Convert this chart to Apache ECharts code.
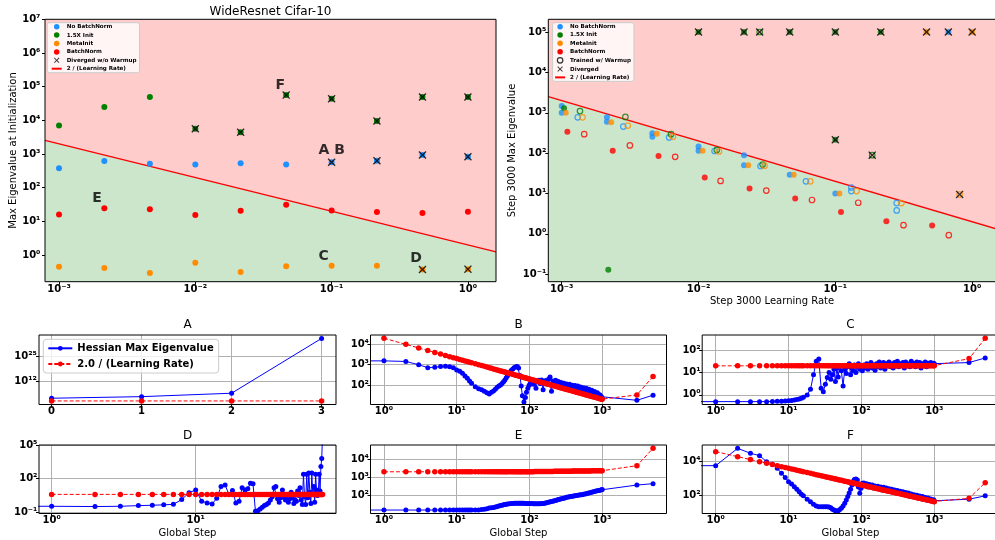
<!DOCTYPE html>
<html><head><meta charset="utf-8">
<script src="https://cdn.jsdelivr.net/npm/echarts@6/dist/echarts.min.js"></script>
<style>html,body{margin:0;padding:0;background:#fff}#c{width:995px;height:540px}</style>
</head><body><div id="c"></div>
<script>
// ---------------- data: top-left (initialization) ----------------
const lrTL = [0.001, 0.00215, 0.00464, 0.01, 0.0215, 0.0464, 0.1, 0.215, 0.464, 1.0];
const noBN_TL = [380, 615, 510, 490, 535, 490, 565, 630, 930, 830];
const init15_TL = [7000, 25000, 49000, 5600, 4400, 56000, 43500, 9500, 49000, 49000];
const meta_TL = [0.45, 0.41, 0.29, 0.59, 0.31, 0.46, 0.48, 0.48, 0.37, 0.38];
const bn_TL = [16, 24.5, 23, 15.4, 20.6, 31, 21, 19, 17.6, 19.4];
const divNoBN_TL = [0, 0, 0, 0, 0, 0, 1, 1, 1, 1];
const divInit15_TL = [0, 0, 0, 1, 1, 1, 1, 1, 1, 1];
const divMeta_TL = [0, 0, 0, 0, 0, 0, 0, 0, 1, 1];
const lineLR_TL = [0.000789, 1.607];
const lineVal_TL = [2535, 1.245];
const annotText = ['F', 'A B', 'C', 'D', 'E'];
const annotLR = [0.039, 0.0807, 0.0807, 0.38, 0.00177];
const annotVal = [79000, 930, 0.66, 0.59, 35.5];

// ---------------- data: top-right (step 3000) ----------------
const trNoBN = [[0.001,1480],[0.001,1000],[0.00214,770],[0.00214,600],[0.0046,310],[0.0046,255],[0.01,145],[0.01,115],[0.0215,89],[0.0215,50],[0.0464,29],[0.1,10],[0.67,1e5]];
const trInit15 = [[0.00104,1290],[0.00219,0.13],[0.01,1e5],[0.0215,1e5],[0.0464,1e5],[0.1,1e5],[0.1,215],[0.215,1e5]];
const trMeta = [[0.00107,1000],[0.0023,580],[0.00495,300],[0.0107,115],[0.0231,50],[0.0496,29],[0.107,10],[0.464,1e5],[1.0,1e5]];
const trBN = [[0.0011,340],[0.00236,115],[0.0051,85],[0.0111,25],[0.0236,13.2],[0.0509,7.5],[0.11,3.5],[0.236,2.05],[0.51,1.62]];
const trNoBN_W = [[0.00131,770],[0.00282,455],[0.0061,245],[0.0131,113],[0.0284,48],[0.061,20],[0.131,14],[0.131,11.5],[0.281,5.8],[0.281,3.8]];
const trInit15_W = [[0.00136,1100],[0.00292,790],[0.0063,295],[0.0136,120],[0.0294,52],[0.028,1e5],[0.186,89]];
const trMeta_W = [[0.00142,770],[0.00304,480],[0.0065,255],[0.0141,110],[0.0304,49],[0.0656,20],[0.143,11.5],[0.304,5.8],[0.81,9.5]];
const trBN_W = [[0.00146,295],[0.00315,155],[0.00675,81],[0.0145,20.5],[0.0313,11.8],[0.0675,6.9],[0.147,5.9],[0.315,1.64],[0.675,0.93]];
const trDiverged = [[0.01,1e5],[0.0215,1e5],[0.028,1e5],[0.0464,1e5],[0.1,1e5],[0.215,1e5],[0.464,1e5],[0.67,1e5],[1.0,1e5],[0.1,215],[0.186,89],[0.81,9.5]];
const lineLR_TR = [0.000798, 1.489];
const lineVal_TR = [2506, 1.343];

// ---------------- data: bottom panels ----------------
const stepsA = [0, 1, 2, 3];
const blueA = [575, 4000, 2.7e5, 6e34];
const redA = [20, 20, 20, 20];

const stepsD = [0,1,2,3,4,5,6,7,8,9,10,11,12,13,14,15,16,17,18,19,20,21,22,23,24,25,26,27,28,29,30,31,32,33,34,35,36,37,38,39,40,41,42,43,44,45,46,47,48,49,50,51,52,53,54,55,56,57,58,59,60,61,62,63,64,65,66,67,68,69,70,71,72,73,74,75,76];
const blueD = [0.35, 0.35,0.33,0.35,0.4,0.43,0.47,0.52,1.4,5.6,10, 1.0,0.7,0.56,1.8,20,28,4,9,0.7,1.0, 16,10,12.6,40,35,0.126,0.14,0.2,0.28,0.4, 0.5,0.7,1.26,2.5,16,20,1.6,0.8,2,10, 2.5,1.26,3.2,0.8,1.6,6.3,2,0.63,1.26,1, 8,3.2,16,1.26,0.5,250,2.5,0.5,250,2, 316,6.3,0.63,316,4,20,0.8,250,10,3.2, 6.3,250,8,1200,6300,1e6];
const redD = [4,4,4,4,4,4,4,4,4,4,4,4,4,4,4,4,4,4,4,4,4,4,4,4,4,4,4,4,4,4,4,4,4,4,4,4,4,4,4,4,4,4,4,4,4,4,4,4,4,4,4,4,4,4,4,4,4,4,4,4,4,4,4,4,4,4,4,4,4,4,4,4,4,4,4,4];

const stepsLong = [0, 1,2,3,4,5,6,7,8,9,10,11,12,13,14,15,16, 18,20,22,24,26,28,30,
  32,34,36,38,40,42,44,46,48,50,53,56,59,62,65,68,71,74,77,80,84,88,91,95,
  99,103,108,113,118,123,129,135,141,147, 154,161,168,176,184,192,201,210,219,229,
  239,250,261,273,285,298,311,325,340,355, 371,388,405,423,442,462,483,505,528,552,
  577,603,630,658,688,719,751,785,820,857, 896,936,978,1000, 3000,5000];
const blueB = [1550, 1550,1450,1000,720,760,810,850,790,710,560,480,380,280,215,160,123, 83,66,59,50,42,37,45,
  52,62,78,90,102,120,145,180,230,290,380,520,620,740,800,830,700,300,90,30,15,25,45,70,
  100,125,140,110,150,70,160,175,120,180, 60,140,170,110,200,250,50,160,130,175,
  100,150,120,135,90,125,105,115,95,110, 85,100,80,95,75,90,70,82,65,75,
  60,70,55,62,50,56,45,48,40,42, 35,33,27,22, 18,32];
const redB = [20000,10000,6667,5000,4000,3333,2857,2500,2222,2000,1818,1667,1538,1429,1333,1250, 1111,1000,909,833,769,714,667,
  625,588,556,526,500,476,455,435,417,400,377,357,339,323,308,294,282,270,260,250,238,227,220,211,
  202,194,185,177,169,163,155,148,142,136, 130,124,119,114,109,104,99.5,95.2,91.3,87.3,
  83.7,80,76.6,73.3,70.2,67.1,64.3,61.5,58.8,56.3, 53.9,51.5,49.4,47.3,45.2,43.3,41.4,39.6,37.9,36.2,
  34.7,33.2,31.7,30.4,29.1,27.8,26.6,25.5,24.4,23.3, 22.3,21.4,20.4,20, 33,265];
const blueC = [0.5, 0.5,0.5,0.5,0.5,0.5,0.51,0.52,0.52,0.54,0.55,0.56,0.59,0.62,0.66,0.71,0.79, 1.0,1.8,7.9,32,40,2.0,1.4,
  3,6,10,5,8,14,4,16,6.3,20,12,2.5,14,9,18,25,8,16,12,22,10,18,25,14,
  20,12,22,16,25,14,20,28,16,22, 12.6,25,18,30,16,22,28,14,25,20,
  30,18,24,16,28,20,32,18,25,22, 28,16,30,20,24,18,32,22,26,18,
  30,20,28,16,25,22,30,18,26,24, 28,22,26,25, 28,45];
const redC = [20,20,20,20,20,20,20,20,20,20,20,20,20,20,20,20, 20,20,20,20,20,20,20,
  20,20,20,20,20,20,20,20,20,20,20,20,20,20,20,20,20,20,20,20,20,20,20,20,
  20,20,20,20,20,20,20,20,20,20, 20,20,20,20,20,20,20,20,20,20,
  20,20,20,20,20,20,20,20,20,20, 20,20,20,20,20,20,20,20,20,20,
  20,20,20,20,20,20,20,20,20,20, 20,20,20,20, 42,340];
const blueE = [16.5, 16.5,16.5,16.5,16.5,16.5,16.5,16.5,16.5,16.5,16.5,16.5,16.5,16.5,16.5,16.5,16.5, 16.6,16.8,17.5,18.5,19.5,21,22,
  23,24.5,26,27.5,29,30.5,32,33.5,34.5,35.5,36.5,37.5,38,38.5,39,39,39,39,39,38.5,38.5,38,38,38,
  38,37.5,37,36.5,36,36,36,36,36.5,37, 38,39,40.5,42,44,46,48,50,52.5,55,
  58,61,64,67,70,73,77,81,84,87, 90,93,97,100,103,106,108,111,114,118,
  123,128,134,140,148,155,163,170,178,185, 193,200,208,215, 380,450];
const redE = [2000,2000,2000,2000,2000,2000,2000,2000,2000,2000,2000,2000,2000,2000,2000,2000, 2000,2000,2000,2000,2000,2000,2000,
  2000,2000,2000,2000,2000,2000,2000,2000,2000,2000,2000,2000,2005,2005,2010,2010,2015,2015,2020,2020,2020,2025,2025,2025,
  2030,2030,2040,2040,2045,2050,2050,2055,2060,2065, 2070,2075,2080,2085,2090,2095,2100,2105,2110,2115,
  2120,2125,2130,2135,2140,2145,2150,2155,2160,2165, 2170,2175,2180,2185,2190,2195,2200,2205,2210,2215,
  2220,2225,2230,2235,2240,2245,2250,2255,2260,2262, 2265,2267,2268,2270, 4300,38000];
const blueF = [5750, 5750,63000,32000,23000,10000,7100,4000,2000,1120,630,450,316,224,158,112,89, 56,40,28,22,20,20,20,
  20,20,19,17,14,12.6,11.2,11,11.5,13,16,22,32,50,80,130,220,400,650,850,900,800,300,126,
  250,500,520,380,480,300,420,330,400,260, 350,250,330,230,300,200,290,210,260,190,
  240,170,220,160,200,140,185,130,170,115, 155,105,140,95,130,85,115,80,105,70,
  95,66,88,60,80,55,72,50,65,46, 58,44,52,45, 56,89];
const redF = [40000,20000,13333,10000,8000,6667,5714,5000,4444,4000,3636,3333,3077,2857,2667,2500, 2222,2000,1818,1667,1538,1429,1333,
  1250,1176,1111,1053,1000,952,909,870,833,800,755,714,678,645,615,588,563,541,519,500,476,455,440,421,
  404,388,370,354,339,325,310,296,284,272, 260,248,238,227,217,208,199,190,183,175,
  167,160,153,147,140,134,129,123,118,113, 108,103,98.8,94.6,90.5,86.6,82.8,79.2,75.8,72.5,
  69.3,66.3,63.5,60.8,58.1,55.6,53.3,51,48.8,46.7, 44.6,42.7,40.9,40, 63,550];

// tick values
const ticksLR = [0.001, 0.01, 0.1, 1];
const ticksTLy = [1, 10, 100, 1000, 1e4, 1e5, 1e6, 1e7];
const ticksTRy = [0.1, 1, 10, 100, 1000, 1e4, 1e5];
const ticksStep = [1, 10, 100, 1000];
const ticksStepD = [1, 10];
const ticksLinA = [0, 1, 2, 3];
const ticksAy = [1e12, 1e25];
const ticksBy = [100, 1000, 10000];
const ticksCy = [1, 10, 100];
const ticksDy = [0.1, 100, 1e5];
const ticksEy = [100, 1000, 10000];
const ticksFy = [100, 10000];

// ---------------- styling / building ----------------
const FONT = 'DejaVu Sans';
const C_BLUE = '#1e90ff', C_GREEN = '#008000', C_ORANGE = '#ff8c00', C_RED = '#ff0000';
const XPATH = 'path://M0,1.2L1.2,0L5,3.8L8.8,0L10,1.2L6.2,5L10,8.8L8.8,10L5,6.2L1.2,10L0,8.8L3.8,5Z';
const SUP = {'0':'⁰','1':'¹','2':'²','3':'³','4':'⁴','5':'⁵','6':'⁶','7':'⁷','8':'⁸','9':'⁹','-':'⁻'};
function powLabel(v) {
  const l = Math.log10(v), e = Math.round(l);
  if (Math.abs(l - e) > 1e-6) return '';
  return '10' + String(e).split('').map(c => SUP[c]).join('');
}
// matplotlib clips non-positive values on a log axis to a tiny positive number
const clipPos = s => (s > 0 ? s : 1e-300);

const grids = [], borders = [], xAxes = [], yAxes = [], series = [];
function panel(rect, bg) {
  const [l, t, w, h] = rect;
  grids.push({left: l, top: t, width: w, height: h, show: !!bg, backgroundColor: bg || 'transparent',
    borderWidth: 0, containLabel: false, outerBoundsMode: 'none'});
  borders.push({left: l, top: t, width: w, height: h, show: true, backgroundColor: 'transparent',
    borderColor: '#000', borderWidth: 1, z: 10, containLabel: false, outerBoundsMode: 'none'});
  return grids.length - 1;
}
function axis(gi, type, min, max, ticks, o) {
  const a = {
    type, gridIndex: gi, min, max, silent: true,
    axisLine: {show: false, onZero: false},
    axisTick: {show: true, length: 3, customValues: ticks, lineStyle: {color: '#000', width: 1}},
    axisLabel: {show: true, customValues: ticks, formatter: type === 'log' ? powLabel : (v => String(v)),
      fontFamily: FONT, fontWeight: 'bold', fontSize: 10, color: '#000', margin: o.margin},
    splitLine: {show: !!o.grid, lineStyle: {color: '#b0b0b0', width: 1}},
    minorTick: {show: false}, minorSplitLine: {show: false},
    name: o.name || '', nameLocation: 'middle', nameGap: o.nameGap || 15,
    nameTextStyle: {fontFamily: FONT, fontSize: 10, color: '#000'}
  };
  if (type === 'log') a.logBase = 10;
  return a;
}
function pairs(xs, ys) { return xs.map((x, i) => [x, ys[i]]); }

// ---- top-left ----
const gTL = panel([45, 19.3, 451, 262.4], '#ffcccc');
xAxes.push(axis(gTL, 'log', 0.000789, 1.607, ticksLR, {margin: 2.5}));
yAxes.push(axis(gTL, 'log', 0.161, 1.0001e7, ticksTLy, {margin: 4.5, name: 'Max Eigenvalue at Initialization', nameGap: 25.5}));
// ---- top-right ----
const gTR = panel([548.3, 19.3, 447.5, 262.4], '#ffcccc');
xAxes.push(axis(gTR, 'log', 0.000798, 1.489, ticksLR, {margin: 2.5, name: 'Step 3000 Learning Rate', nameGap: 14.5}));
yAxes.push(axis(gTR, 'log', 0.0653, 2.065e5, ticksTRy, {margin: 2, name: 'Step 3000 Max Eigenvalue', nameGap: 31}));
// ---- bottom panels ----
const gA = panel([39, 335, 297, 69.5]);
xAxes.push(axis(gA, 'value', -0.14, 3.16, ticksLinA, {margin: 2, grid: true}));
yAxes.push(axis(gA, 'log', 0.25, 3.98e36, ticksAy, {margin: 2, grid: true}));
const gB = panel([370.5, 335, 296, 69.5]);
xAxes.push(axis(gB, 'log', 0.653, 7656, ticksStep, {margin: 1.5, grid: true}));
yAxes.push(axis(gB, 'log', 11.2, 28840, ticksBy, {margin: 1.5, grid: true}));
const gC = panel([702.2, 335, 296.5, 69.5]);
xAxes.push(axis(gC, 'log', 0.653, 7656, ticksStep, {margin: 1.5, grid: true}));
yAxes.push(axis(gC, 'log', 0.372, 479, ticksCy, {margin: 1.5, grid: true}));
const gD = panel([39, 445, 297, 68.5]);
xAxes.push(axis(gD, 'log', 0.817, 94.2, ticksStepD, {margin: 1.5, grid: true, name: 'Global Step', nameGap: 14.5}));
yAxes.push(axis(gD, 'log', 0.0794, 1.0005e5, ticksDy, {margin: 1.5, grid: true}));
const gE = panel([370.5, 445, 296, 68.5]);
xAxes.push(axis(gE, 'log', 0.653, 7656, ticksStep, {margin: 1.5, grid: true, name: 'Global Step', nameGap: 14.5}));
yAxes.push(axis(gE, 'log', 10.7, 57544, ticksEy, {margin: 1.5, grid: true}));
const gF = panel([702.2, 445, 296.5, 68.5]);
xAxes.push(axis(gF, 'log', 0.653, 7656, ticksStep, {margin: 1.5, grid: true, name: 'Global Step', nameGap: 14.5}));
yAxes.push(axis(gF, 'log', 7.76, 1.0005e5, ticksFy, {margin: 1.5, grid: true}));

// top-left series
series.push({type: 'line', name: '2 / (Learning Rate)', xAxisIndex: gTL, yAxisIndex: gTL, data: pairs(lineLR_TL, lineVal_TL),
  symbol: 'none', lineStyle: {color: C_RED, width: 1.3}, itemStyle: {color: C_RED},
  areaStyle: {color: '#cce6cc', opacity: 1, origin: 'start'}, z: 1, silent: true});
[['No BatchNorm', noBN_TL, C_BLUE], ['1.5X Init', init15_TL, C_GREEN], ['MetaInit', meta_TL, C_ORANGE], ['BatchNorm', bn_TL, C_RED]]
  .forEach(([n, vals, c]) => series.push({type: 'scatter', name: n, xAxisIndex: gTL, yAxisIndex: gTL,
    data: pairs(lrTL, vals), symbol: 'circle', symbolSize: 6, itemStyle: {color: c, opacity: 1}, z: 3, silent: true}));
const divTL = [];
[[noBN_TL, divNoBN_TL], [init15_TL, divInit15_TL], [meta_TL, divMeta_TL]].forEach(([vals, flags]) =>
  flags.forEach((f, i) => { if (f) divTL.push([lrTL[i], vals[i]]); }));
series.push({type: 'scatter', name: 'Diverged w/o Warmup', xAxisIndex: gTL, yAxisIndex: gTL, data: divTL,
  symbol: XPATH, symbolSize: 8, symbolKeepAspect: true, itemStyle: {color: '#000'}, z: 5, silent: true});
series.push({type: 'scatter', name: 'annotations', xAxisIndex: gTL, yAxisIndex: gTL,
  data: annotText.map((t, i) => ({name: t, value: [annotLR[i], annotVal[i]]})),
  symbolSize: 1, itemStyle: {color: 'rgba(0,0,0,0)'}, z: 6, silent: true,
  label: {show: true, formatter: '{b}', position: [0, 0], align: 'left', verticalAlign: 'bottom', offset: [0, 3],
    fontFamily: FONT, fontSize: 14, fontWeight: 'bold', color: '#000'}});

// top-right series
series.push({type: 'line', name: '2 / (Learning Rate)', xAxisIndex: gTR, yAxisIndex: gTR, data: pairs(lineLR_TR, lineVal_TR),
  symbol: 'none', lineStyle: {color: C_RED, width: 1.3}, itemStyle: {color: C_RED},
  areaStyle: {color: '#cce6cc', opacity: 1, origin: 'start'}, z: 1, silent: true});
[['No BatchNorm', trNoBN, C_BLUE], ['1.5X Init', trInit15, C_GREEN], ['MetaInit', trMeta, C_ORANGE], ['BatchNorm', trBN, C_RED]]
  .forEach(([n, pts, c]) => series.push({type: 'scatter', name: n, xAxisIndex: gTR, yAxisIndex: gTR,
    data: pts, symbol: 'circle', symbolSize: 6, itemStyle: {color: c}, z: 3, silent: true}));
const openPts = [];
[[trNoBN_W, C_BLUE], [trInit15_W, C_GREEN], [trMeta_W, C_ORANGE], [trBN_W, C_RED]].forEach(([pts, c]) =>
  pts.forEach(p => openPts.push({value: p, itemStyle: {borderColor: c}})));
series.push({type: 'scatter', name: 'Trained w/ Warmup', xAxisIndex: gTR, yAxisIndex: gTR, data: openPts,
  symbol: 'circle', symbolSize: 5.5, itemStyle: {color: 'rgba(0,0,0,0)', borderColor: '#000', borderWidth: 1.2, opacity: 0.8}, z: 3, silent: true});
series.push({type: 'scatter', name: 'Diverged', xAxisIndex: gTR, yAxisIndex: gTR, data: trDiverged,
  symbol: XPATH, symbolSize: 8, symbolKeepAspect: true, itemStyle: {color: '#000'}, z: 5, silent: true});

// bottom series
function hessPanel(gi, steps, blue, red) {
  series.push({type: 'line', name: 'Hessian Max Eigenvalue', xAxisIndex: gi, yAxisIndex: gi,
    data: steps.map((s, i) => [xAxes[gi].type === 'log' ? clipPos(s) : s, blue[i]]),
    symbol: 'circle', symbolSize: 5, showSymbol: true, lineStyle: {color: '#0000ff', width: 1},
    itemStyle: {color: '#0000ff'}, z: 3, silent: true, clip: true});
  const rs = steps.slice(steps.length - red.length);
  series.push({type: 'line', name: '2.0 / (Learning Rate)', xAxisIndex: gi, yAxisIndex: gi,
    data: rs.map((s, i) => [s, red[i]]),
    symbol: 'circle', symbolSize: 5.5, showSymbol: true, lineStyle: {color: '#ff0000', width: 1, type: [4, 2]},
    itemStyle: {color: '#ff0000'}, z: 4, silent: true, clip: true});
}
hessPanel(gA, stepsA, blueA, redA);
hessPanel(gB, stepsLong, blueB, redB);
hessPanel(gC, stepsLong, blueC, redC);
hessPanel(gD, stepsD, blueD, redD);
hessPanel(gE, stepsLong, blueE, redE);
hessPanel(gF, stepsLong, blueF, redF);

// titles
const tStyle = {fontFamily: FONT, fontSize: 12, fontWeight: 'normal', color: '#000'};
const titles = [
  {text: 'WideResnet Cifar-10', left: 270.5, top: 5.5},
  {text: 'A', left: 187.5, top: 319}, {text: 'B', left: 518.5, top: 319}, {text: 'C', left: 850.5, top: 319},
  {text: 'D', left: 187.5, top: 430}, {text: 'E', left: 518.5, top: 430}, {text: 'F', left: 850.5, top: 430}
].map(t => Object.assign(t, {textAlign: 'center', padding: 0, textStyle: tStyle}));

const smallLegendText = {fontFamily: FONT, fontSize: 5.6, fontWeight: 'bold', color: '#000', lineHeight: 6};
const legends = [
  {left: 47.3, top: 22.7, orient: 'vertical', padding: [1, 3, 1, 3.4], itemGap: 2.4, itemWidth: 10, itemHeight: 5.5,
   backgroundColor: 'rgba(255,255,255,0.8)', borderColor: '#cccccc', borderWidth: 1, borderRadius: 2,
   textStyle: smallLegendText, selectedMode: false, z: 8,
   data: ['No BatchNorm', '1.5X Init', 'MetaInit', 'BatchNorm', 'Diverged w/o Warmup',
     {name: '2 / (Learning Rate)', itemStyle: {opacity: 0}}]},
  {left: 552.6, top: 22.7, orient: 'vertical', padding: [1, 3, 1, 1.5], itemGap: 2.33, itemWidth: 10, itemHeight: 5.5,
   backgroundColor: 'rgba(255,255,255,0.8)', borderColor: '#cccccc', borderWidth: 1, borderRadius: 2,
   textStyle: smallLegendText, selectedMode: false, z: 8,
   data: ['No BatchNorm', '1.5X Init', 'MetaInit', 'BatchNorm',
     {name: 'Trained w/ Warmup', itemStyle: {color: 'rgba(0,0,0,0)', borderColor: '#000', borderWidth: 1.2}},
     'Diverged', {name: '2 / (Learning Rate)', itemStyle: {opacity: 0}}]},
  {left: 43.3, top: 339.3, orient: 'vertical', padding: [3, 5, 3, 4], itemGap: 3.7, itemWidth: 24, itemHeight: 6,
   backgroundColor: 'rgba(255,255,255,0.8)', borderColor: '#cccccc', borderWidth: 1, borderRadius: 3,
   textStyle: {fontFamily: FONT, fontSize: 10, fontWeight: 'bold', color: '#000', lineHeight: 12},
   selectedMode: false, z: 8,
   data: ['Hessian Max Eigenvalue', '2.0 / (Learning Rate)']}
];

const chart = echarts.init(document.getElementById('c'), null, {renderer: 'canvas'});
chart.setOption({
  animation: false,
  backgroundColor: '#fff',
  textStyle: {fontFamily: FONT},
  title: titles,
  legend: legends,
  grid: grids.concat(borders),
  xAxis: xAxes,
  yAxis: yAxes,
  series: series
});
</script></body></html>
